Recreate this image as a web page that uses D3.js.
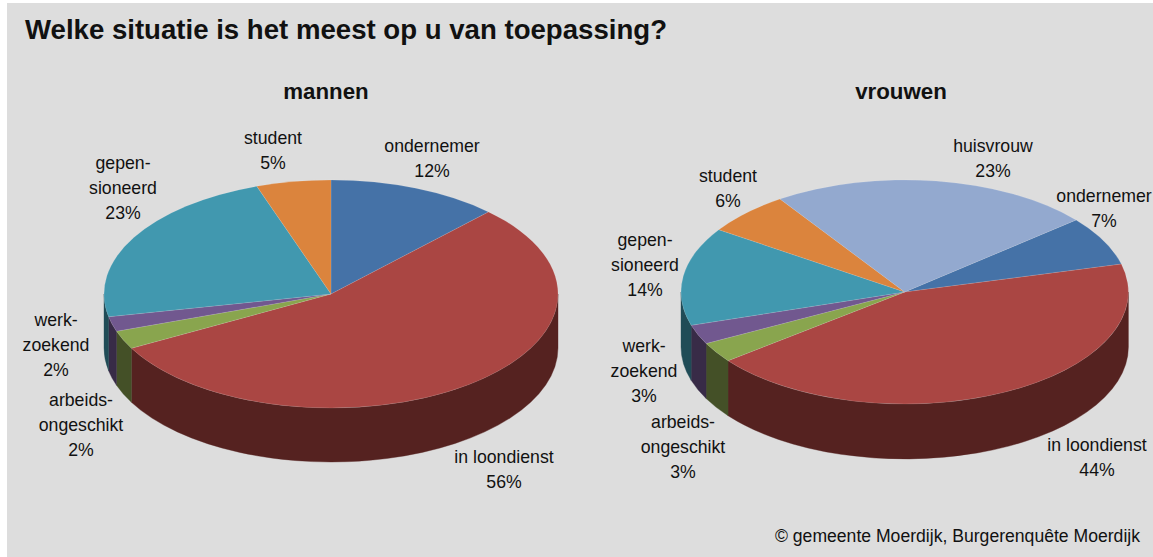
<!DOCTYPE html>
<html>
<head>
<meta charset="utf-8">
<title>Welke situatie is het meest op u van toepassing?</title>
<script src="https://d3js.org/d3.v7.min.js"></script>
<style>
  html, body { margin: 0; padding: 0; background: #fff; }
  svg { display: block; }
  text { font-family: "Liberation Sans", Arial, sans-serif; fill: #111; }
</style>
</head>
<body>
<svg id="chart" width="1153" height="557"></svg>

<script>
// data
var categoriesMannen = ["ondernemer", "in loondienst", "arbeidsongeschikt", "werkzoekend", "gepensioneerd", "student"];
var sharesMannen = [12.2, 54.9, 2.6, 2.1, 22.9, 5.3];
var labelsMannen = ["12%", "56%", "2%", "2%", "23%", "5%"];

var categoriesVrouwen = ["ondernemer", "in loondienst", "arbeidsongeschikt", "werkzoekend", "gepensioneerd", "student", "huisvrouw"];
var sharesVrouwen = [7.1, 43.5, 2.9, 2.8, 14.2, 6.2, 23.3];
var labelsVrouwen = ["7%", "44%", "3%", "3%", "14%", "6%", "23%"];

// how the category names break over lines in the labels
var labelLines = {
  "ondernemer": ["ondernemer"],
  "in loondienst": ["in loondienst"],
  "arbeidsongeschikt": ["arbeids-", "ongeschikt"],
  "werkzoekend": ["werk-", "zoekend"],
  "gepensioneerd": ["gepen-", "sioneerd"],
  "student": ["student"],
  "huisvrouw": ["huisvrouw"]
};

var topColor = d3.scaleOrdinal()
  .domain(categoriesVrouwen)
  .range(["#4572a7", "#aa4643", "#89a54e", "#71588f", "#4198af", "#db843d", "#93a9cf"]);
var wallColor = d3.scaleOrdinal()
  .domain(categoriesVrouwen)
  .range(["#22395a", "#552220", "#445027", "#382b47", "#204c57", "#6d411e", "#49546a"]);

var svg = d3.select("#chart");

svg.append("rect")
  .attr("x", 7).attr("y", 3)
  .attr("width", 1146).attr("height", 554)
  .attr("fill", "#dddddd");

svg.append("text")
  .attr("x", 25).attr("y", 39)
  .attr("font-size", 27.6).attr("font-weight", "bold")
  .text("Welke situatie is het meest op u van toepassing?");

svg.append("text")
  .attr("x", 1140).attr("y", 542)
  .attr("text-anchor", "end").attr("font-size", 17.6)
  .text("© gemeente Moerdijk, Burgerenquête Moerdijk");

// one tilted pie: the top is a d3.arc squashed to an ellipse, the walls are d3.path arcs below it
function drawPie(opt) {
  var ratio = opt.ry / opt.rx;
  var depth = opt.depth / ratio;   // wall height in unsquashed units

  var pie = d3.pie().sort(null)
    .startAngle(opt.start)
    .endAngle(opt.start + 2 * Math.PI);
  var slices = pie(opt.shares).map(function(d, i) {
    d.category = opt.categories[i];
    return d;
  });

  var g = svg.append("g")
    .attr("transform", "translate(" + opt.cx + "," + opt.cy + ") scale(1," + ratio + ")");

  var arc = d3.arc().innerRadius(0).outerRadius(opt.rx);

  // walls, only the part of each slice that faces us
  slices.forEach(function(d) {
    var a0 = Math.max(d.startAngle, Math.PI / 2);
    var a1 = Math.min(d.endAngle, 3 * Math.PI / 2);
    if (a1 <= a0) return;
    var p = d3.path();
    p.arc(0, 0, opt.rx, a0 - Math.PI / 2, a1 - Math.PI / 2);
    p.arc(0, depth, opt.rx, a1 - Math.PI / 2, a0 - Math.PI / 2, true);
    p.closePath();
    g.append("path")
      .attr("d", p.toString())
      .attr("fill", wallColor(d.category))
      .attr("stroke", wallColor(d.category))
      .attr("stroke-width", 0.5);
  });

  g.selectAll("path.top")
    .data(slices)
    .enter().append("path")
    .attr("class", "top")
    .attr("d", arc)
    .attr("fill", function(d) { return topColor(d.category); })
    .attr("stroke", "#fff")
    .attr("stroke-opacity", 0.25)
    .attr("stroke-width", 0.6);

  // labels
  slices.forEach(function(d, i) {
    var lines = labelLines[d.category].concat(opt.labels[i]);
    var t = svg.append("text")
      .attr("text-anchor", "middle")
      .attr("font-size", 17.7);
    lines.forEach(function(line, j) {
      t.append("tspan")
        .attr("x", opt.labelPos[i][0])
        .attr("y", opt.labelPos[i][1] + j * 24.8)
        .text(line);
    });
  });

  svg.append("text")
    .attr("x", opt.titleX).attr("y", 99)
    .attr("text-anchor", "middle")
    .attr("font-size", 22.3).attr("font-weight", "bold")
    .text(opt.title);
}

drawPie({
  title: "mannen", titleX: 326,
  categories: categoriesMannen, shares: sharesMannen, labels: labelsMannen,
  cx: 331, cy: 294, rx: 227, ry: 114, depth: 54,
  start: 0,
  // x centre and first baseline of each label
  labelPos: [[432, 152], [504, 463], [81, 406], [56, 326], [123, 169], [273, 144]]
});

drawPie({
  title: "vrouwen", titleX: 901,
  categories: categoriesVrouwen, shares: sharesVrouwen, labels: labelsVrouwen,
  cx: 904.7, cy: 292, rx: 223.7, ry: 112, depth: 55,
  start: 50 * Math.PI / 180,
  labelPos: [[1104, 202], [1097, 451], [683, 428], [644, 352], [645, 246], [728, 182], [993, 152]]
});
</script>
</body>
</html>
